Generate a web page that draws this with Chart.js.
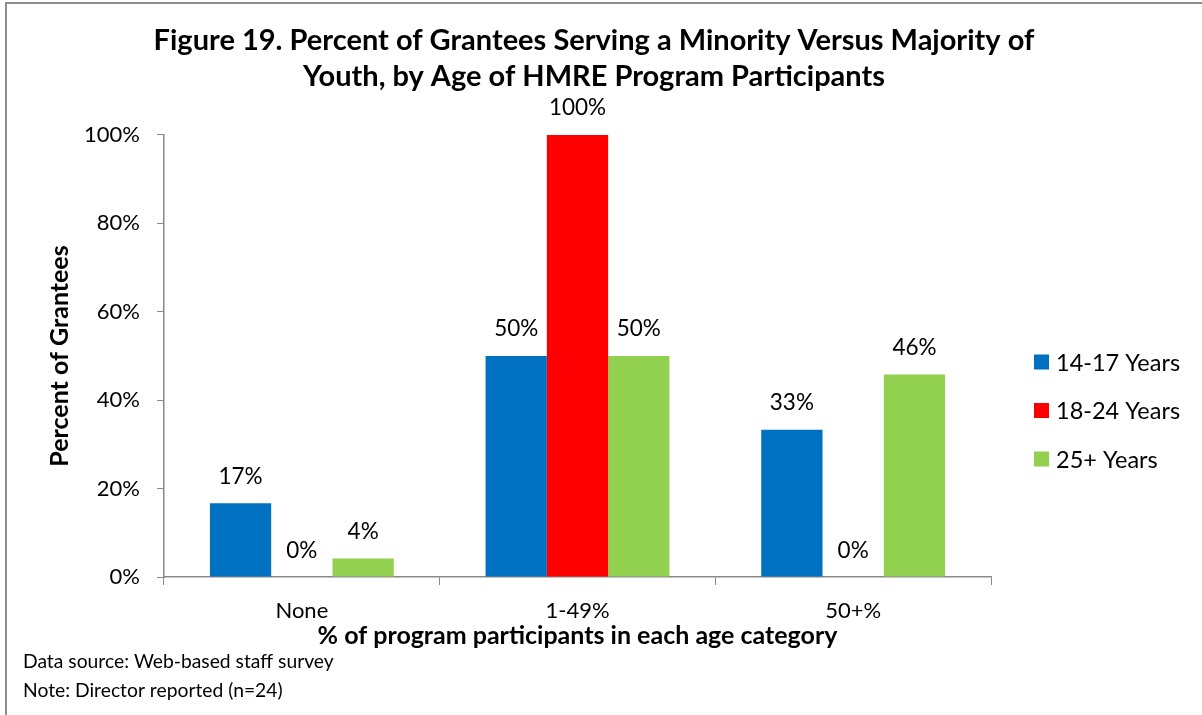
<!DOCTYPE html>
<html><head><meta charset="utf-8">
<script src="https://cdn.jsdelivr.net/npm/chart.js@4.4.1/dist/chart.umd.min.js"></script>
<style>
html,body{margin:0;padding:0;background:#fff;overflow:hidden;}
#wrap{position:relative;width:1202px;height:715px;}
#frame{position:absolute;left:5px;top:2px;width:1300px;height:800px;border-left:2px solid #8c8c8c;border-top:2px solid #8c8c8c;pointer-events:none;}
canvas{display:block}
</style></head><body>
<div id="wrap"><canvas id="c" width="1202" height="715"></canvas><div id="frame"></div></div>
<script>
const categories = ['None', '1-49%', '50+%'];
const seriesNames = ['14-17 Years', '18-24 Years', '25+ Years'];
const values1417 = [16.7, 50, 33.3];
const values1824 = [0, 100, 0];
const values25plus = [4.2, 50, 45.8];
const yTickStep = 20;
const yMax = 100;
const titleLines = ['Figure 19. Percent of Grantees Serving a Minority Versus Majority of', 'Youth, by Age of HMRE Program Participants'];
const yAxisTitle = 'Percent of Grantees';
const xAxisTitle = '% of program participants in each age category';
const footnotes = ['Data source: Web-based staff survey', 'Note: Director reported (n=24)'];
const seriesColors = ['#0070C0', '#FF0000', '#92D050'];

const FONT = 'Lato, "Open Sans", sans-serif';
const AXIS = '#898989';

const dataLabelPlugin = {
  id: 'dataLabels',
  afterDatasetsDraw(chart) {
    const ctx = chart.ctx;
    ctx.save();
    ctx.font = '22.5px ' + FONT;
    ctx.fillStyle = '#000';
    ctx.textAlign = 'center';
    ctx.textBaseline = 'alphabetic';
    chart.data.datasets.forEach((ds, i) => {
      chart.getDatasetMeta(i).data.forEach((el, j) => {
        ctx.fillText(Math.round(ds.data[j]) + '%', el.x, el.y - 19.5);
      });
    });
    ctx.restore();
  }
};

const legendPlugin = {
  id: 'sideLegend',
  afterDraw(chart) {
    const ctx = chart.ctx;
    ctx.save();
    ctx.font = '23.5px ' + FONT;
    ctx.textAlign = 'left';
    ctx.textBaseline = 'middle';
    chart.data.datasets.forEach((ds, i) => {
      const cy = 362 + i * 48.5;
      ctx.fillStyle = ds.backgroundColor;
      ctx.fillRect(1034, cy - 7.5, 15, 15);
      ctx.fillStyle = '#000';
      ctx.fillText(ds.label, 1056, cy + 1);
    });
    ctx.restore();
  }
};

const notesPlugin = {
  id: 'notes',
  afterDraw(chart) {
    const ctx = chart.ctx;
    ctx.save();
    ctx.font = '19.3px ' + FONT;
    ctx.fillStyle = '#000';
    ctx.textAlign = 'left';
    ctx.textBaseline = 'alphabetic';
    footnotes.forEach((t, i) => ctx.fillText(t, 23, 668 + i * 28.5));
    ctx.restore();
  }
};

function build() {
  new Chart(document.getElementById('c'), {
    type: 'bar',
    data: {
      labels: categories,
      datasets: [
        { label: seriesNames[0], data: values1417, backgroundColor: seriesColors[0] },
        { label: seriesNames[1], data: values1824, backgroundColor: seriesColors[1] },
        { label: seriesNames[2], data: values25plus, backgroundColor: seriesColors[2] }
      ]
    },
    options: {
      responsive: false,
      animation: false,
      devicePixelRatio: 1,
      layout: { padding: { left: 0, right: 14, top: 0, bottom: 60 } },
      datasets: { bar: { categoryPercentage: 0.667, barPercentage: 1, borderWidth: 0 } },
      plugins: {
        legend: { display: false },
        tooltip: { enabled: false },
        title: {
          display: true,
          text: titleLines,
          color: '#000',
          font: { family: FONT, size: 29, weight: 'bold', lineHeight: 1.241 },
          padding: { top: 23, bottom: 40 }
        }
      },
      scales: {
        x: {
          type: 'category',
          grid: { display: true, offset: true, drawOnChartArea: false, drawTicks: true, tickLength: 8, color: AXIS },
          border: { display: true, color: AXIS, width: 1.5 },
          ticks: { color: '#000', font: { family: FONT, size: 22 }, padding: 13 },
          title: { display: true, text: xAxisTitle, color: '#000', font: { family: FONT, size: 25, weight: 'bold' }, padding: { top: 0, bottom: 4 } },
          afterFit(s) { s.height = 78; }
        },
        y: {
          min: 0, max: yMax,
          ticks: { stepSize: yTickStep, color: '#000', font: { family: FONT, size: 22 }, padding: 17, callback: v => v + '%' },
          grid: { display: true, drawOnChartArea: false, drawTicks: true, tickLength: 7, color: AXIS },
          border: { display: true, color: AXIS, width: 1.5 },
          title: { display: true, text: yAxisTitle, color: '#000', font: { family: FONT, size: 25, weight: 'bold' }, padding: { top: 45, bottom: 0 } },
          afterFit(s) { s.width = 164; }
        },
        yRight: {
          position: 'right',
          display: true,
          grid: { display: false, drawTicks: false },
          border: { display: false },
          ticks: { display: false },
          afterFit(s) { s.width = 197; }
        }
      }
    },
    plugins: [dataLabelPlugin, legendPlugin, notesPlugin]
  });
}

const fontLoads = ['22px Lato', 'bold 22px Lato'].map(f => document.fonts.load(f).catch(() => null));
Promise.all(fontLoads).then(build, build);
</script>
</body></html>
